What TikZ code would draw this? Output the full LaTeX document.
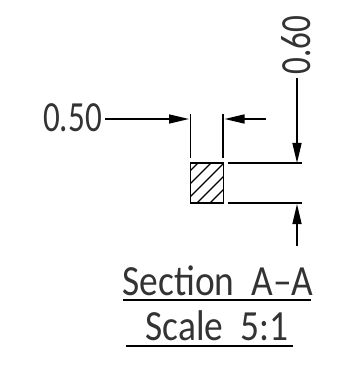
\documentclass[tikz,border=0pt]{standalone}
\usepackage{graphicx}
\usepackage{fontspec}
\setmainfont{Carlito}
\usetikzlibrary{arrows.meta}
\tikzset{
  dimline/.style={line width=1.5pt,black},
  dimarrow/.style={dimline,-{Triangle[length=20pt,width=9pt]}},
  hatchline/.style={line width=1.4pt,black},
  caption/.style={inner sep=0pt,font=\fontsize{43}{43}\selectfont,text=black!80},
  titlelabel/.style={caption,xscale=.87},
}
\newcommand{\narrownum}[1]{\scalebox{.77}[1]{#1}}
\begin{document}
\begin{tikzpicture}[x=1pt,y=-1pt]
\useasboundingbox (0,0) rectangle (339,366);
% section square
\coordinate (sqTL) at (190.5,163);
\coordinate (sqBR) at (223.5,203);
\begin{scope}
\clip (sqTL) rectangle (sqBR);
\foreach \s in {361,374,387,400,413,426}
  \draw[hatchline] (\s-213,213) -- (\s-153,153);
\end{scope}
\draw[line width=1.4pt] (sqTL) rectangle (sqBR);
% extension lines
\coordinate (e1a) at (190.5,114); \coordinate (e1b) at (190.5,158);
\coordinate (e2a) at (223,114);   \coordinate (e2b) at (223,158);
\coordinate (e3a) at (228,163);   \coordinate (e3b) at (302,163);
\coordinate (e4a) at (228,203);   \coordinate (e4b) at (302,203);
\draw[dimline] (e1a) -- (e1b);
\draw[dimline] (e2a) -- (e2b);
\draw[dimline] (e3a) -- (e3b);
\draw[dimline] (e4a) -- (e4b);
% labels
\node[caption,anchor=center] (w) at (72.5,118) {\narrownum{0.50}};
\node[caption,anchor=center,rotate=90] (h) at (296,45) {\narrownum{0.60}};
\node[titlelabel,anchor=center] (sec) at (218,281) {Section\ \ A–A};
\node[titlelabel,anchor=center] (sca) at (217,326) {Scale\ \ 5:1};
% dimension arrows
\coordinate (a1s) at (105,119); \coordinate (a1e) at (189,119);
\coordinate (a2s) at (266,119); \coordinate (a2e) at (224.5,119);
\coordinate (a3s) at (297,78);  \coordinate (a3e) at (297,163);
\coordinate (a4s) at (297,246); \coordinate (a4e) at (297,204);
\draw[dimarrow] (a1s) -- (a1e);
\draw[dimarrow] (a2s) -- (a2e);
\draw[dimarrow] (a3s) -- (a3e);
\draw[dimarrow] (a4s) -- (a4e);
% underlines
\coordinate (u1a) at (123,300); \coordinate (u1b) at (311,300);
\coordinate (u2a) at (126,346); \coordinate (u2b) at (293,346);
\draw[dimline] (u1a) -- (u1b);
\draw[dimline] (u2a) -- (u2b);
\end{tikzpicture}
\end{document}
